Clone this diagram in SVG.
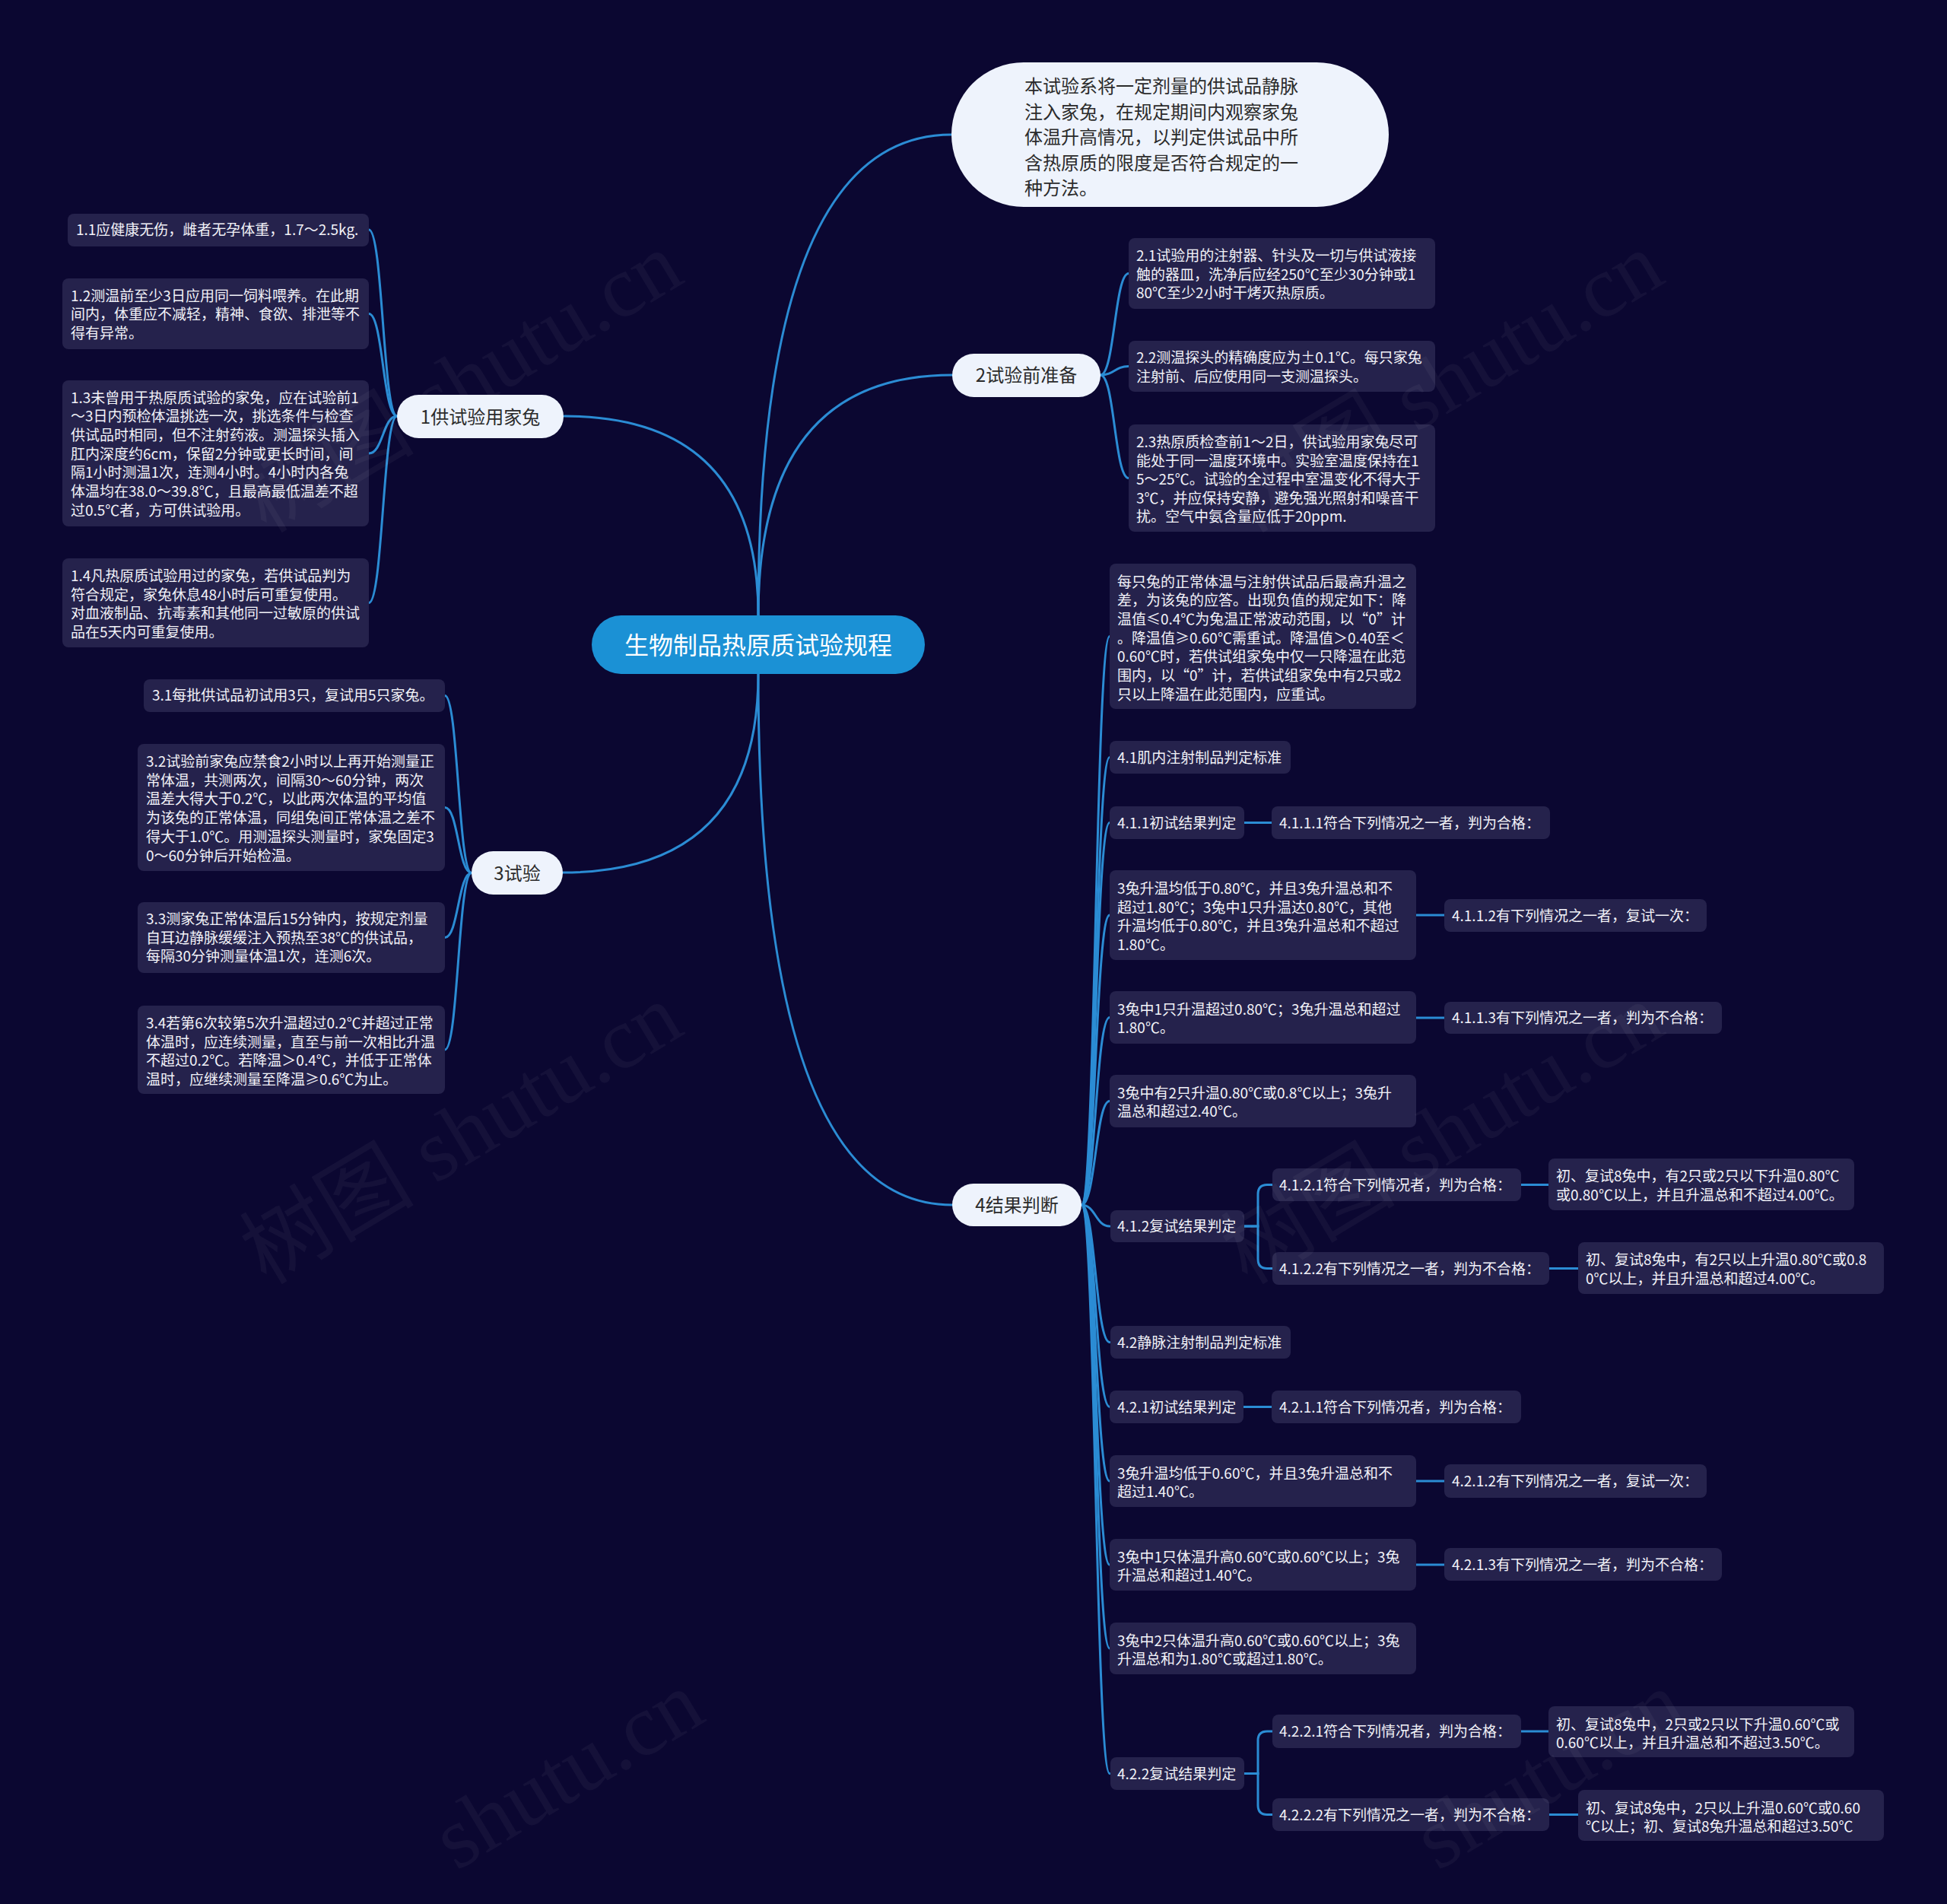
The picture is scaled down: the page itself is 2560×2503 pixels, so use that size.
<svg xmlns="http://www.w3.org/2000/svg" width="2560" height="2503" viewBox="0 0 2560 2503">
<defs>
<style>
.bg{fill:#0b0731}
.leaf{fill:#25224c}
.lt{fill:#f2f2f8;font-size:19px;font-family:"Noto Sans CJK SC","Liberation Sans",sans-serif}
.l1{fill:#eef3fc}
.l1t{fill:#2b2b2b;font-size:24px;font-family:"Noto Sans CJK SC","Liberation Sans",sans-serif;text-anchor:middle}
.rootbox{fill:#1b91d5}
.roott{fill:#ffffff;font-size:32px;font-family:"Noto Sans CJK SC","Liberation Sans",sans-serif;text-anchor:middle}
.link{stroke:#2b8cd4;stroke-width:3;fill:none;stroke-linecap:round}
.wm{fill:#ffffff;fill-opacity:0.045;font-size:115px;font-family:"Liberation Serif","Noto Sans CJK SC",serif}
</style>
</defs>
<rect class="bg" x="0" y="0" width="2560" height="2503"/>

<g id="connectors">
<path class="link" d="M997 809 Q997 177 1251 177"/>
<path class="link" d="M997 809 Q997 493 1252 493"/>
<path class="link" d="M997 809 Q997 547 742 547"/>
<path class="link" d="M997 886 Q997 1147 740 1147"/>
<path class="link" d="M997 886 Q997 1584 1252 1584"/>
<path class="link" d="M522 547 C503.5 547 503.5 302 485 302"/>
<path class="link" d="M522 547 C503.5 547 503.5 412.5 485 412.5"/>
<path class="link" d="M522 547 C503.5 547 503.5 596 485 596"/>
<path class="link" d="M522 547 C503.5 547 503.5 792.5 485 792.5"/>
<path class="link" d="M1447 493 C1465.5 493 1465.5 359.5 1484 359.5"/>
<path class="link" d="M1447 493 C1465.5 493 1465.5 481.5 1484 481.5"/>
<path class="link" d="M1447 493 C1465.5 493 1465.5 628.5 1484 628.5"/>
<path class="link" d="M620 1147.5 C602.5 1147.5 602.5 914.5 585 914.5"/>
<path class="link" d="M620 1147.5 C602.5 1147.5 602.5 1061.5 585 1061.5"/>
<path class="link" d="M620 1147.5 C602.5 1147.5 602.5 1232.5 585 1232.5"/>
<path class="link" d="M620 1147.5 C602.5 1147.5 602.5 1380 585 1380"/>
<path class="link" d="M1422 1584 C1440.5 1584 1440.5 836.5 1459 836.5"/>
<path class="link" d="M1422 1584 C1440.5 1584 1440.5 995.5 1459 995.5"/>
<path class="link" d="M1422 1584 C1440.5 1584 1440.5 1081.5 1459 1081.5"/>
<path class="link" d="M1422 1584 C1440.5 1584 1440.5 1203 1459 1203"/>
<path class="link" d="M1422 1584 C1440.5 1584 1440.5 1337.5 1459 1337.5"/>
<path class="link" d="M1422 1584 C1440.5 1584 1440.5 1447.5 1459 1447.5"/>
<path class="link" d="M1422 1584 C1440.5 1584 1440.5 1612 1459 1612"/>
<path class="link" d="M1422 1584 C1440.5 1584 1440.5 1764.5 1459 1764.5"/>
<path class="link" d="M1422 1584 C1440.5 1584 1440.5 1849.5 1459 1849.5"/>
<path class="link" d="M1422 1584 C1440.5 1584 1440.5 1947 1459 1947"/>
<path class="link" d="M1422 1584 C1440.5 1584 1440.5 2057 1459 2057"/>
<path class="link" d="M1422 1584 C1440.5 1584 1440.5 2167 1459 2167"/>
<path class="link" d="M1422 1584 C1440.5 1584 1440.5 2331.5 1459 2331.5"/>
<path class="link" d="M1636 1612 H1654 V1570 Q1654 1557.5 1666 1557.5 H1673"/>
<path class="link" d="M1636 1612 H1654 V1655 Q1654 1667.5 1666 1667.5 H1673"/>
<path class="link" d="M1636 2331.5 H1654 V2288 Q1654 2276 1666 2276 H1673"/>
<path class="link" d="M1636 2331.5 H1654 V2373 Q1654 2385.5 1666 2385.5 H1673"/>
<path class="link" d="M1636 1081.5 H1672"/>
<path class="link" d="M1862 1203 H1899"/>
<path class="link" d="M1862 1338 H1899"/>
<path class="link" d="M2000 1557.5 H2036"/>
<path class="link" d="M2037 1667.5 H2075"/>
<path class="link" d="M1635 1849.5 H1672"/>
<path class="link" d="M1862 1947 H1899"/>
<path class="link" d="M1862 2057 H1899"/>
<path class="link" d="M2000 2276 H2036"/>
<path class="link" d="M2037 2385.5 H2075"/>
</g>

<g id="root">
<rect class="rootbox" x="778" y="809" width="438" height="77" rx="38.5"/>
<text class="roott" x="997" y="860">生物制品热原质试验规程</text>
</g>

<g id="n-intro">
<rect class="l1" x="1251" y="82" width="575" height="190" rx="95"/>
<text class="l1t" style="text-anchor:start">
<tspan x="1347" y="122">本试验系将一定剂量的供试品静脉</tspan>
<tspan x="1347" y="155.5">注入家兔，在规定期间内观察家兔</tspan>
<tspan x="1347" y="189">体温升高情况，以判定供试品中所</tspan>
<tspan x="1347" y="222.5">含热原质的限度是否符合规定的一</tspan>
<tspan x="1347" y="256">种方法。</tspan>
</text>
</g>

<g id="n1">
<rect class="l1" x="522" y="519" width="219" height="57" rx="28.5"/>
<text class="l1t" x="631.5" y="556.5">1供试验用家兔</text>
</g>
<g id="n2">
<rect class="l1" x="1252" y="465" width="195" height="57" rx="28.5"/>
<text class="l1t" x="1349.5" y="502">2试验前准备</text>
</g>
<g id="n3">
<rect class="l1" x="620" y="1119" width="120" height="57" rx="28.5"/>
<text class="l1t" x="680" y="1156.5">3试验</text>
</g>
<g id="n4">
<rect class="l1" x="1252" y="1556" width="170" height="56" rx="28"/>
<text class="l1t" x="1337" y="1593">4结果判断</text>
</g>

<g id="n1-1">
<rect class="leaf" x="89" y="281" width="396" height="43" rx="8"/>
<text class="lt" x="100" y="309">1.1应健康无伤，雌者无孕体重，1.7～2.5kg.</text>
</g>
<g id="n1-2">
<rect class="leaf" x="82" y="366" width="403" height="93" rx="8"/>
<text class="lt">
<tspan x="93" y="395.5">1.2测温前至少3日应用同一饲料喂养。在此期</tspan>
<tspan x="93" y="420">间内，体重应不减轻，精神、食欲、排泄等不</tspan>
<tspan x="93" y="445">得有异常。</tspan>
</text>
</g>
<g id="n1-3">
<rect class="leaf" x="82" y="500" width="403" height="192" rx="8"/>
<text class="lt">
<tspan x="93" y="529.5">1.3未曾用于热原质试验的家兔，应在试验前1</tspan>
<tspan x="93" y="554.2">～3日内预检体温挑选一次，挑选条件与检查</tspan>
<tspan x="93" y="578.9">供试品时相同，但不注射药液。测温探头插入</tspan>
<tspan x="93" y="603.6">肛内深度约6cm，保留2分钟或更长时间，间</tspan>
<tspan x="93" y="628.3">隔1小时测温1次，连测4小时。4小时内各兔</tspan>
<tspan x="93" y="653">体温均在38.0～39.8℃，且最高最低温差不超</tspan>
<tspan x="93" y="677.7">过0.5℃者，方可供试验用。</tspan>
</text>
</g>
<g id="n1-4">
<rect class="leaf" x="82" y="734" width="403" height="117" rx="8"/>
<text class="lt">
<tspan x="93" y="764">1.4凡热原质试验用过的家兔，若供试品判为</tspan>
<tspan x="93" y="788.5">符合规定，家兔休息48小时后可重复使用。</tspan>
<tspan x="93" y="813">对血液制品、抗毒素和其他同一过敏原的供试</tspan>
<tspan x="93" y="837.5">品在5天内可重复使用。</tspan>
</text>
</g>

<g id="n2-1">
<rect class="leaf" x="1484" y="313" width="403" height="93" rx="8"/>
<text class="lt">
<tspan x="1494" y="343">2.1试验用的注射器、针头及一切与供试液接</tspan>
<tspan x="1494" y="367.5">触的器皿，洗净后应经250℃至少30分钟或1</tspan>
<tspan x="1494" y="392">80℃至少2小时干烤灭热原质。</tspan>
</text>
</g>
<g id="n2-2">
<rect class="leaf" x="1484" y="448" width="403" height="67" rx="8"/>
<text class="lt">
<tspan x="1494" y="477">2.2测温探头的精确度应为±0.1℃。每只家兔</tspan>
<tspan x="1494" y="501.5">注射前、后应使用同一支测温探头。</tspan>
</text>
</g>
<g id="n2-3">
<rect class="leaf" x="1484" y="558" width="403" height="141" rx="8"/>
<text class="lt">
<tspan x="1494" y="588">2.3热原质检查前1～2日，供试验用家兔尽可</tspan>
<tspan x="1494" y="612.5">能处于同一温度环境中。实验室温度保持在1</tspan>
<tspan x="1494" y="637">5～25℃。试验的全过程中室温变化不得大于</tspan>
<tspan x="1494" y="661.5">3℃，并应保持安静，避免强光照射和噪音干</tspan>
<tspan x="1494" y="686">扰。空气中氨含量应低于20ppm.</tspan>
</text>
</g>

<g id="n3-1">
<rect class="leaf" x="189" y="893" width="396" height="43" rx="8"/>
<text class="lt" x="200" y="921">3.1每批供试品初试用3只，复试用5只家兔。</text>
</g>
<g id="n3-2">
<rect class="leaf" x="181" y="978" width="404" height="167" rx="8"/>
<text class="lt">
<tspan x="192" y="1008">3.2试验前家兔应禁食2小时以上再开始测量正</tspan>
<tspan x="192" y="1032.7">常体温，共测两次，间隔30～60分钟，两次</tspan>
<tspan x="192" y="1057.4">温差大得大于0.2℃，以此两次体温的平均值</tspan>
<tspan x="192" y="1082.1">为该兔的正常体温，同组兔间正常体温之差不</tspan>
<tspan x="192" y="1106.8">得大于1.0℃。用测温探头测量时，家兔固定3</tspan>
<tspan x="192" y="1131.5">0～60分钟后开始检温。</tspan>
</text>
</g>
<g id="n3-3">
<rect class="leaf" x="181" y="1186" width="404" height="93" rx="8"/>
<text class="lt">
<tspan x="192" y="1215">3.3测家兔正常体温后15分钟内，按规定剂量</tspan>
<tspan x="192" y="1239.7">自耳边静脉缓缓注入预热至38℃的供试品，</tspan>
<tspan x="192" y="1264.4">每隔30分钟测量体温1次，连测6次。</tspan>
</text>
</g>
<g id="n3-4">
<rect class="leaf" x="181" y="1322" width="404" height="116" rx="8"/>
<text class="lt">
<tspan x="192" y="1352">3.4若第6次较第5次升温超过0.2℃并超过正常</tspan>
<tspan x="192" y="1376.7">体温时，应连续测量，直至与前一次相比升温</tspan>
<tspan x="192" y="1401.4">不超过0.2℃。若降温＞0.4℃，并低于正常体</tspan>
<tspan x="192" y="1426.1">温时，应继续测量至降温≥0.6℃为止。</tspan>
</text>
</g>

<g id="n4-a">
<rect class="leaf" x="1459" y="741" width="403" height="191" rx="8"/>
<text class="lt">
<tspan x="1469" y="771.5">每只兔的正常体温与注射供试品后最高升温之</tspan>
<tspan x="1469" y="796.2">差，为该兔的应答。出现负值的规定如下：降</tspan>
<tspan x="1469" y="820.9">温值≤0.4℃为兔温正常波动范围，以“0”计</tspan>
<tspan x="1469" y="845.6">。降温值≥0.60℃需重试。降温值＞0.40至＜</tspan>
<tspan x="1469" y="870.3">0.60℃时，若供试组家兔中仅一只降温在此范</tspan>
<tspan x="1469" y="895">围内，以“0”计，若供试组家兔中有2只或2</tspan>
<tspan x="1469" y="919.7">只以上降温在此范围内，应重试。</tspan>
</text>
</g>
<g id="n4-1">
<rect class="leaf" x="1459" y="974" width="238" height="43" rx="8"/>
<text class="lt" x="1469" y="1002.5">4.1肌内注射制品判定标准</text>
</g>
<g id="n4-1-1">
<rect class="leaf" x="1459" y="1060" width="177" height="43" rx="8"/>
<text class="lt" x="1469" y="1088.5">4.1.1初试结果判定</text>
</g>
<g id="n4-1-1-1">
<rect class="leaf" x="1672" y="1060" width="366" height="43" rx="8"/>
<text class="lt" x="1682" y="1088.5">4.1.1.1符合下列情况之一者，判为合格：</text>
</g>
<g id="n4-b">
<rect class="leaf" x="1459" y="1144" width="403" height="118" rx="8"/>
<text class="lt">
<tspan x="1469" y="1175">3兔升温均低于0.80℃，并且3兔升温总和不</tspan>
<tspan x="1469" y="1199.7">超过1.80℃；3兔中1只升温达0.80℃，其他</tspan>
<tspan x="1469" y="1224.4">升温均低于0.80℃，并且3兔升温总和不超过</tspan>
<tspan x="1469" y="1249.1">1.80℃。</tspan>
</text>
</g>
<g id="n4-1-1-2">
<rect class="leaf" x="1899" y="1182" width="345" height="43" rx="8"/>
<text class="lt" x="1909" y="1210.5">4.1.1.2有下列情况之一者，复试一次：</text>
</g>
<g id="n4-c">
<rect class="leaf" x="1459" y="1303" width="403" height="69" rx="8"/>
<text class="lt">
<tspan x="1469" y="1333.5">3兔中1只升温超过0.80℃；3兔升温总和超过</tspan>
<tspan x="1469" y="1358.2">1.80℃。</tspan>
</text>
</g>
<g id="n4-1-1-3">
<rect class="leaf" x="1899" y="1317" width="365" height="42" rx="8"/>
<text class="lt" x="1909" y="1345">4.1.1.3有下列情况之一者，判为不合格：</text>
</g>
<g id="n4-d">
<rect class="leaf" x="1459" y="1413" width="403" height="69" rx="8"/>
<text class="lt">
<tspan x="1469" y="1443.5">3兔中有2只升温0.80℃或0.8℃以上；3兔升</tspan>
<tspan x="1469" y="1468.2">温总和超过2.40℃。</tspan>
</text>
</g>
<g id="n4-1-2">
<rect class="leaf" x="1460" y="1591" width="176" height="42" rx="8"/>
<text class="lt" x="1469" y="1619">4.1.2复试结果判定</text>
</g>
<g id="n4-1-2-1">
<rect class="leaf" x="1673" y="1536" width="327" height="43" rx="8"/>
<text class="lt" x="1682" y="1564.5">4.1.2.1符合下列情况者，判为合格：</text>
</g>
<g id="n4-1-2-2">
<rect class="leaf" x="1673" y="1646" width="364" height="43" rx="8"/>
<text class="lt" x="1682" y="1674.5">4.1.2.2有下列情况之一者，判为不合格：</text>
</g>
<g id="n4-1-2-1-a">
<rect class="leaf" x="2036" y="1523" width="402" height="68" rx="8"/>
<text class="lt">
<tspan x="2046" y="1553">初、复试8兔中，有2只或2只以下升温0.80℃</tspan>
<tspan x="2046" y="1577.7">或0.80℃以上，并且升温总和不超过4.00℃。</tspan>
</text>
</g>
<g id="n4-1-2-2-a">
<rect class="leaf" x="2075" y="1633" width="402" height="68" rx="8"/>
<text class="lt">
<tspan x="2085" y="1663">初、复试8兔中，有2只以上升温0.80℃或0.8</tspan>
<tspan x="2085" y="1687.7">0℃以上，并且升温总和超过4.00℃。</tspan>
</text>
</g>
<g id="n4-2">
<rect class="leaf" x="1460" y="1743" width="237" height="43" rx="8"/>
<text class="lt" x="1469" y="1771.5">4.2静脉注射制品判定标准</text>
</g>
<g id="n4-2-1">
<rect class="leaf" x="1459" y="1828" width="176" height="43" rx="8"/>
<text class="lt" x="1469" y="1856.5">4.2.1初试结果判定</text>
</g>
<g id="n4-2-1-1">
<rect class="leaf" x="1672" y="1828" width="328" height="43" rx="8"/>
<text class="lt" x="1682" y="1856.5">4.2.1.1符合下列情况者，判为合格：</text>
</g>
<g id="n4-e">
<rect class="leaf" x="1459" y="1913" width="403" height="68" rx="8"/>
<text class="lt">
<tspan x="1469" y="1943.5">3兔升温均低于0.60℃，并且3兔升温总和不</tspan>
<tspan x="1469" y="1968.2">超过1.40℃。</tspan>
</text>
</g>
<g id="n4-2-1-2">
<rect class="leaf" x="1899" y="1925" width="345" height="44" rx="8"/>
<text class="lt" x="1909" y="1954">4.2.1.2有下列情况之一者，复试一次：</text>
</g>
<g id="n4-f">
<rect class="leaf" x="1459" y="2023" width="403" height="68" rx="8"/>
<text class="lt">
<tspan x="1469" y="2053.5">3兔中1只体温升高0.60℃或0.60℃以上；3兔</tspan>
<tspan x="1469" y="2078.2">升温总和超过1.40℃。</tspan>
</text>
</g>
<g id="n4-2-1-3">
<rect class="leaf" x="1899" y="2035" width="365" height="43" rx="8"/>
<text class="lt" x="1909" y="2063.5">4.2.1.3有下列情况之一者，判为不合格：</text>
</g>
<g id="n4-g">
<rect class="leaf" x="1459" y="2133" width="403" height="68" rx="8"/>
<text class="lt">
<tspan x="1469" y="2163.5">3兔中2只体温升高0.60℃或0.60℃以上；3兔</tspan>
<tspan x="1469" y="2188.2">升温总和为1.80℃或超过1.80℃。</tspan>
</text>
</g>
<g id="n4-2-2">
<rect class="leaf" x="1460" y="2310" width="176" height="43" rx="8"/>
<text class="lt" x="1469" y="2338.5">4.2.2复试结果判定</text>
</g>
<g id="n4-2-2-1">
<rect class="leaf" x="1673" y="2254" width="327" height="44" rx="8"/>
<text class="lt" x="1682" y="2283">4.2.2.1符合下列情况者，判为合格：</text>
</g>
<g id="n4-2-2-2">
<rect class="leaf" x="1673" y="2364" width="364" height="43" rx="8"/>
<text class="lt" x="1682" y="2392.5">4.2.2.2有下列情况之一者，判为不合格：</text>
</g>
<g id="n4-2-2-1-a">
<rect class="leaf" x="2036" y="2243" width="402" height="67" rx="8"/>
<text class="lt">
<tspan x="2046" y="2273.5">初、复试8兔中，2只或2只以下升温0.60℃或</tspan>
<tspan x="2046" y="2298">0.60℃以上，并且升温总和不超过3.50℃。</tspan>
</text>
</g>
<g id="n4-2-2-2-a">
<rect class="leaf" x="2075" y="2353" width="402" height="67" rx="8"/>
<text class="lt">
<tspan x="2085" y="2383.5">初、复试8兔中，2只以上升温0.60℃或0.60</tspan>
<tspan x="2085" y="2408">℃以上；初、复试8兔升温总和超过3.50℃</tspan>
</text>
</g>

<g id="watermark">
<text class="wm" x="350" y="702" transform="rotate(-31 350 702)">树图 shutu.cn</text>
<text class="wm" x="1640" y="702" transform="rotate(-31 1640 702)">树图 shutu.cn</text>
<text class="wm" x="350" y="1690" transform="rotate(-31 350 1690)">树图 shutu.cn</text>
<text class="wm" x="1640" y="1690" transform="rotate(-31 1640 1690)">树图 shutu.cn</text>
<text class="wm" x="600" y="2460" transform="rotate(-31 600 2460)">shutu.cn</text>
<text class="wm" x="1890" y="2460" transform="rotate(-31 1890 2460)">shutu.cn</text>
</g>
</svg>
